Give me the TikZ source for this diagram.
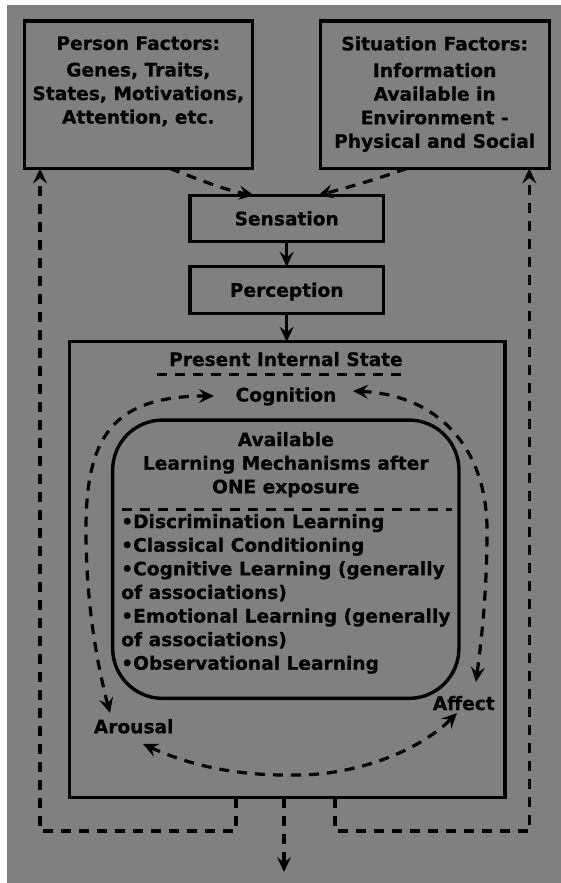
\documentclass[tikz,border=0pt]{standalone}
\usepackage{fontspec}
\setmainfont{DejaVu Sans}[BoldFeatures={FakeBold=0.6}]
\usetikzlibrary{arrows.meta}
\definecolor{bggray}{HTML}{808080}
\begin{document}
\begin{tikzpicture}[x=1pt,y=-1pt,
  every node/.style={font=\bfseries\fontsize{18.6}{23.6}\selectfont, inner sep=0pt, outer sep=0pt},
  frame/.style={draw, line width=3.4pt},
  dashline/.style={line width=3.2pt, dash pattern=on 10pt off 8pt},
  tipend/.style={-{Stealth[length=15pt,width=14pt,inset=5.5pt]}},
  bothends/.style={{Stealth[length=15pt,width=14pt,inset=5.5pt]}-{Stealth[length=15pt,width=14pt,inset=5.5pt]}},
]
\useasboundingbox (0,0) rectangle (561,883);
\fill[white] (0,0) rectangle (561,883);
\fill[bggray] (7,5) rectangle (561,883);

% factor boxes
\node[frame, minimum width=228pt, minimum height=147.5pt] (person) at (138.3,94.7) {};
\node[anchor=north, align=center] (persontext) at (138.3,36.3)
  {Person Factors:\\[3pt] Genes, Traits,\\ States, Motivations,\\ Attention, etc.};

\node[frame, minimum width=229pt, minimum height=147.5pt] (situation) at (434.7,94.7) {};
\node[anchor=north, align=center] (situationtext) at (434.7,36.3)
  {Situation Factors:\\[3pt] Information\\ Available in\\ Environment -\\ Physical and Social};

% processing chain
\node[frame, minimum width=193.3pt, minimum height=46.2pt, text height=13.5pt, text depth=0pt] (sensation) at (286.7,218.6) {Sensation};
\node[frame, minimum width=193.3pt, minimum height=46.6pt, text height=13.5pt, text depth=0pt] (perception) at (286.7,290) {Perception};

% internal state
\node[frame, minimum width=435.7pt, minimum height=456pt] (state) at (287.2,569.7) {};
\node[anchor=base] (present) at (286,366) {Present Internal State};
\draw[dashline] (157.4,374.3) coordinate (pl) -- (407.9,374.3) coordinate (pr);
\node[anchor=base] (cognition) at (286,401.5) {Cognition};

\node[frame, rounded corners=50pt, minimum width=346.3pt, minimum height=278.3pt] (mech) at (285.8,559.2) {};
\node[anchor=north, align=center] (mechtitle) at (285.8,432)
  {Available\\ Learning Mechanisms after\\ ONE exposure};
\draw[dashline] (121.6,509.3) coordinate (ml) -- (451.5,509.3) coordinate (mr);
\node[anchor=north west, align=left] (mechlist) at (121.3,514)
  {•Discrimination Learning\\ •Classical Conditioning\\ •Cognitive Learning (generally\\ of associations)\\ •Emotional Learning (generally\\ of associations)\\ •Observational Learning};

\node[anchor=base] (arousal) at (133.7,733.3) {Arousal};
\node[anchor=base] (affect) at (463.8,710) {Affect};

% cycle between cognition, arousal and affect
\coordinate (cogL) at (214,396);
\coordinate (cogR) at (353,391);
\coordinate (arT) at (110,713);
\coordinate (arR) at (143,744);
\coordinate (afT) at (476,682);
\coordinate (afB) at (457,713);
\draw[dashline, bothends] (arT) .. controls (96,660) and (86,600) .. (86,530)
  .. controls (86,440) and (110,396) .. (cogL);
\draw[dashline, bothends] (cogR) .. controls (440,395) and (487,450) .. (487,530)
  .. controls (487,600) and (480,650) .. (afT);
\draw[dashline, bothends] (arR) .. controls (200,770) and (250,776) .. (300,775)
  .. controls (360,774) and (420,750) .. (afB);

% inputs to sensation
\draw[dashline, tipend] (person.south -| 170,0) .. controls (200,180) and (225,190) .. (sensation.north -| 254,0);
\draw[dashline, tipend] (situation.south -| 406.7,0) .. controls (375,180) and (345,188) .. (sensation.north -| 318,0);

% solid chain arrows
\draw[line width=3.2pt, tipend] (sensation.south -| 286.7,0) -- (perception.north -| 286.7,0);
\draw[line width=3.2pt, tipend] (perception.south -| 286.7,0) -- (state.north -| 286.7,0);

% feedback loops
\coordinate (fbL) at (40,831);
\coordinate (fbLi) at (236,831);
\coordinate (fbR) at (529.3,831);
\coordinate (fbRi) at (335,831);
\coordinate (outend) at (284,872);
\draw[dashline, tipend] (state.south -| fbLi) -- (fbLi) -- (fbL) -- (person.south -| fbL);
\draw[dashline, tipend] (state.south -| fbRi) -- (fbRi) -- (fbR) -- (situation.south -| fbR);
\draw[dashline, tipend] (state.south -| outend) -- (outend);
\end{tikzpicture}
\end{document}
